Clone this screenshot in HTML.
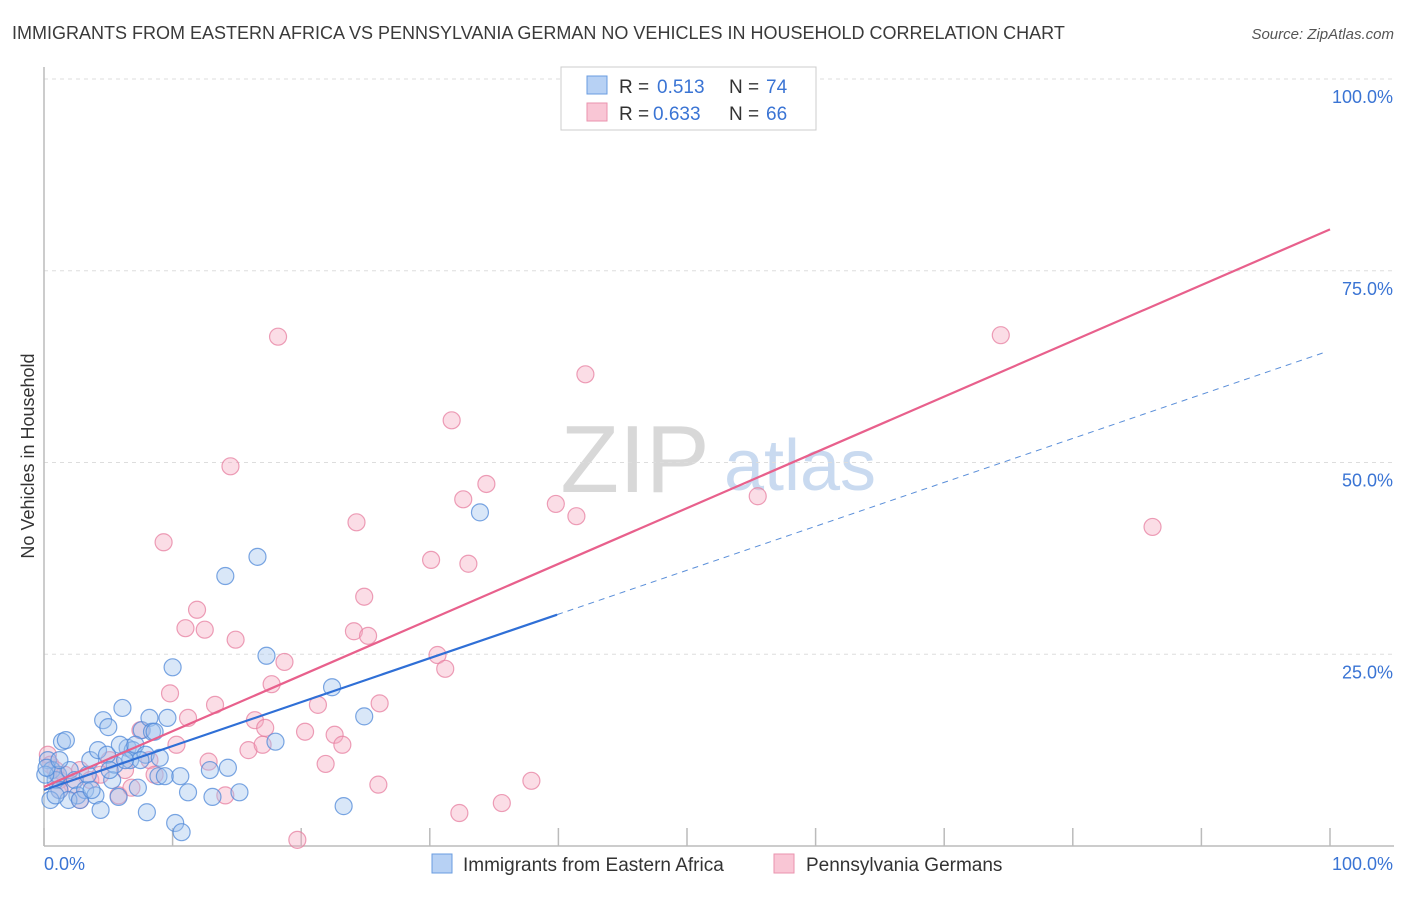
<!DOCTYPE html>
<html><head><meta charset="utf-8"><style>
body{margin:0;background:#fff;font-family:"Liberation Sans",sans-serif}
svg text{font-family:"Liberation Sans",sans-serif}
</style></head><body>
<svg id="chart" width="1406" height="892" viewBox="0 0 1406 892" xmlns="http://www.w3.org/2000/svg">
<text x="12" y="39" font-size="18" fill="#3a3a3a">IMMIGRANTS FROM EASTERN AFRICA VS PENNSYLVANIA GERMAN NO VEHICLES IN HOUSEHOLD CORRELATION CHART</text>
<text x="1394" y="39" font-size="15" font-style="italic" fill="#555" text-anchor="end">Source: ZipAtlas.com</text>
<text transform="translate(34,456) rotate(-90)" font-size="18" fill="#333" text-anchor="middle">No Vehicles in Household</text>
<g>
<text x="635" y="492" font-size="96" font-family="Liberation Serif" fill="#d8d8d8" text-anchor="middle">ZIP</text>
<text x="800" y="490" font-size="72" fill="#c9daf0" text-anchor="middle">atlas</text>
</g>
<g id="grid"></g>
<g id="axes"></g>
<g id="pts"></g>
<g id="lines"></g>
<g>
<rect x="561" y="67" width="255" height="63" fill="#fff" stroke="#ccc"/>
<rect x="587" y="76" width="20" height="18" fill="#b7d1f4" stroke="#6a9ce0"/>
<rect x="587" y="103" width="20" height="18" fill="#f9c6d5" stroke="#ea93ae"/>
<text x="619" y="93" font-size="19" fill="#333">R = </text><text x="657" y="93" font-size="19" fill="#3a74d4">0.513</text>
<text x="729" y="93" font-size="19" fill="#333">N = </text><text x="766" y="93" font-size="19" fill="#3a74d4">74</text>
<text x="619" y="120" font-size="19" fill="#333">R = </text><text x="653" y="120" font-size="19" fill="#3a74d4">0.633</text>
<text x="729" y="120" font-size="19" fill="#333">N = </text><text x="766" y="120" font-size="19" fill="#3a74d4">66</text>
</g>
<g>
<rect x="432" y="854" width="20" height="19" fill="#b7d1f4" stroke="#6a9ce0"/>
<text x="463" y="871" font-size="19" fill="#333">Immigrants from Eastern Africa</text>
<rect x="774" y="854" width="20" height="19" fill="#f9c6d5" stroke="#ea93ae"/>
<text x="806" y="871" font-size="19" fill="#333">Pennsylvania Germans</text>
</g>
</svg>
<script>
const blueX=[0.3,0.6,0.9,1.1,1.4,1.7,1.2,2.0,2.4,2.6,3.2,3.4,3.6,4.0,4.2,4.4,4.6,5.0,5.3,5.5,5.8,6.1,6.5,6.7,6.9,7.3,7.6,8.0,8.2,8.4,8.6,8.9,9.4,9.6,10.0,10.2,10.6,10.7,11.2,12.9,13.1,14.1,14.3,15.2,16.6,17.3,18.0,22.4,23.3,24.9,33.9,4.9,5.9,7.1,7.9,9.0,1.9,2.8,3.7,0.5,0.9,0.1,0.2,1.2,7.5,6.3,5.1];
const blueY=[11.2,9.9,8.6,9.3,13.6,13.8,7.3,9.9,8.6,6.6,7.3,9.3,11.2,6.6,12.5,4.7,16.4,15.5,8.6,10.6,6.4,18.0,12.8,11.2,12.5,7.6,15.1,4.4,16.7,14.9,14.9,9.1,9.1,16.7,23.3,3.0,9.1,1.8,7.0,9.9,6.4,35.2,10.2,7.0,37.7,24.8,13.6,20.7,5.2,16.9,43.5,11.9,13.2,13.2,11.9,11.5,6.0,6.0,7.3,6.0,6.6,9.3,10.2,11.2,11.2,11.2,9.9];
const pinkX=[0.3,0.5,0.9,1.2,1.6,2.2,2.8,3.6,4.4,5.1,5.8,6.3,6.8,7.5,8.2,8.6,9.3,9.8,10.3,11.0,11.2,11.9,12.5,12.8,13.3,14.1,14.5,14.9,15.9,16.4,17.0,17.2,17.7,18.2,18.7,19.7,20.3,21.3,21.9,22.6,23.2,24.1,24.3,24.9,25.2,26.0,26.1,30.1,30.6,31.2,31.7,32.3,32.6,33.0,34.4,35.6,37.9,39.8,41.4,42.1,54.0,55.5,74.4,86.2,2.8,1.2];
const pinkY=[11.9,10.6,9.9,8.6,9.3,8.0,9.9,8.6,9.3,11.2,6.6,9.9,7.6,15.1,11.2,9.3,39.6,19.9,13.2,28.4,16.7,30.8,28.2,11.0,18.4,6.6,49.5,26.9,12.5,16.4,13.2,15.4,21.1,66.4,24.0,0.8,14.9,18.4,10.7,14.5,13.2,28.0,42.2,32.5,27.4,8.0,18.6,37.3,24.9,23.1,55.5,4.3,45.2,36.8,47.2,5.6,8.5,44.6,43.0,61.5,99.9,45.6,66.6,41.6,6.0,7.3];
const blueFit=[7.3,0.573];
const pinkFit=[7.7,0.727];
const xTicks=[0,10,20,30,40,50,60,70,80,90,100];
const yTicks=[25,50,75,100];
const yTickLabels=["25.0%","50.0%","75.0%","100.0%"];

const NS="http://www.w3.org/2000/svg";
const X0=44,X1=1330,Y0=846,Y1=79;
const sx=v=>X0+(X1-X0)*v/100;
const sy=v=>Y0-(Y0-Y1)*v/100;
function mk(tag,attrs,parent){const e=document.createElementNS(NS,tag);for(const k in attrs)e.setAttribute(k,attrs[k]);parent.appendChild(e);return e;}
const grid=document.getElementById('grid'),axes=document.getElementById('axes'),pts=document.getElementById('pts'),lines=document.getElementById('lines');
yTicks.forEach((t,i)=>{
 const g=mk('line',{x1:X0,x2:1394,y1:sy(t),y2:sy(t),stroke:'#ddd','stroke-dasharray':'4,4'},grid);
 
 
 const tx=mk('text',{x:1393,y:sy(t)+24,'font-size':18,fill:'#3a74d4','text-anchor':'end'},axes);
 tx.textContent=yTickLabels[i];
 
 
});
const ya=mk('line',{x1:X0,x2:X0,y1:67,y2:Y0,stroke:'#bbb','stroke-width':1.5},axes);


const xa=mk('line',{x1:X0,x2:1394,y1:Y0,y2:Y0,stroke:'#bbb','stroke-width':1.5},axes);


xTicks.forEach(t=>{
 const l=mk('line',{x1:sx(t),x2:sx(t),y1:Y0,y2:Y0-18,stroke:'#bbb','stroke-width':1.5},axes);
 
 
});
const xl0=mk('text',{x:44,y:870,'font-size':18,fill:'#3a74d4'},axes);xl0.textContent='0.0%';


const xl1=mk('text',{x:1393,y:870,'font-size':18,fill:'#3a74d4','text-anchor':'end'},axes);xl1.textContent='100.0%';


function drawPts(xs,ys,fill,stroke,name){
 xs.forEach((x,i)=>{
  const c=mk('circle',{cx:sx(x),cy:sy(ys[i]),r:8.5,fill:fill,'fill-opacity':0.4,stroke:stroke,'stroke-opacity':0.75,'stroke-width':1.2},pts);
  
  
 });
}
drawPts(pinkX,pinkY,'#f4a9c0','#e77fa0','pink-point');
drawPts(blueX,blueY,'#9fc2ee','#4f88d8','blue-point');
const pl=mk('line',{x1:sx(0),y1:sy(pinkFit[0]),x2:sx(100),y2:sy(pinkFit[0]+pinkFit[1]*100),stroke:'#e8608c','stroke-width':2.2},lines);


const bmax=Math.max(...blueX)+6;
const bl=mk('line',{x1:sx(0),y1:sy(blueFit[0]),x2:sx(bmax),y2:sy(blueFit[0]+blueFit[1]*bmax),stroke:'#2f6fd6','stroke-width':2.2},lines);


const bd=mk('line',{x1:sx(bmax),y1:sy(blueFit[0]+blueFit[1]*bmax),x2:sx(99.6),y2:sy(blueFit[0]+blueFit[1]*99.6),stroke:'#5b8fd9','stroke-width':1,'stroke-dasharray':'6,5'},lines);


</script>
</body></html>
